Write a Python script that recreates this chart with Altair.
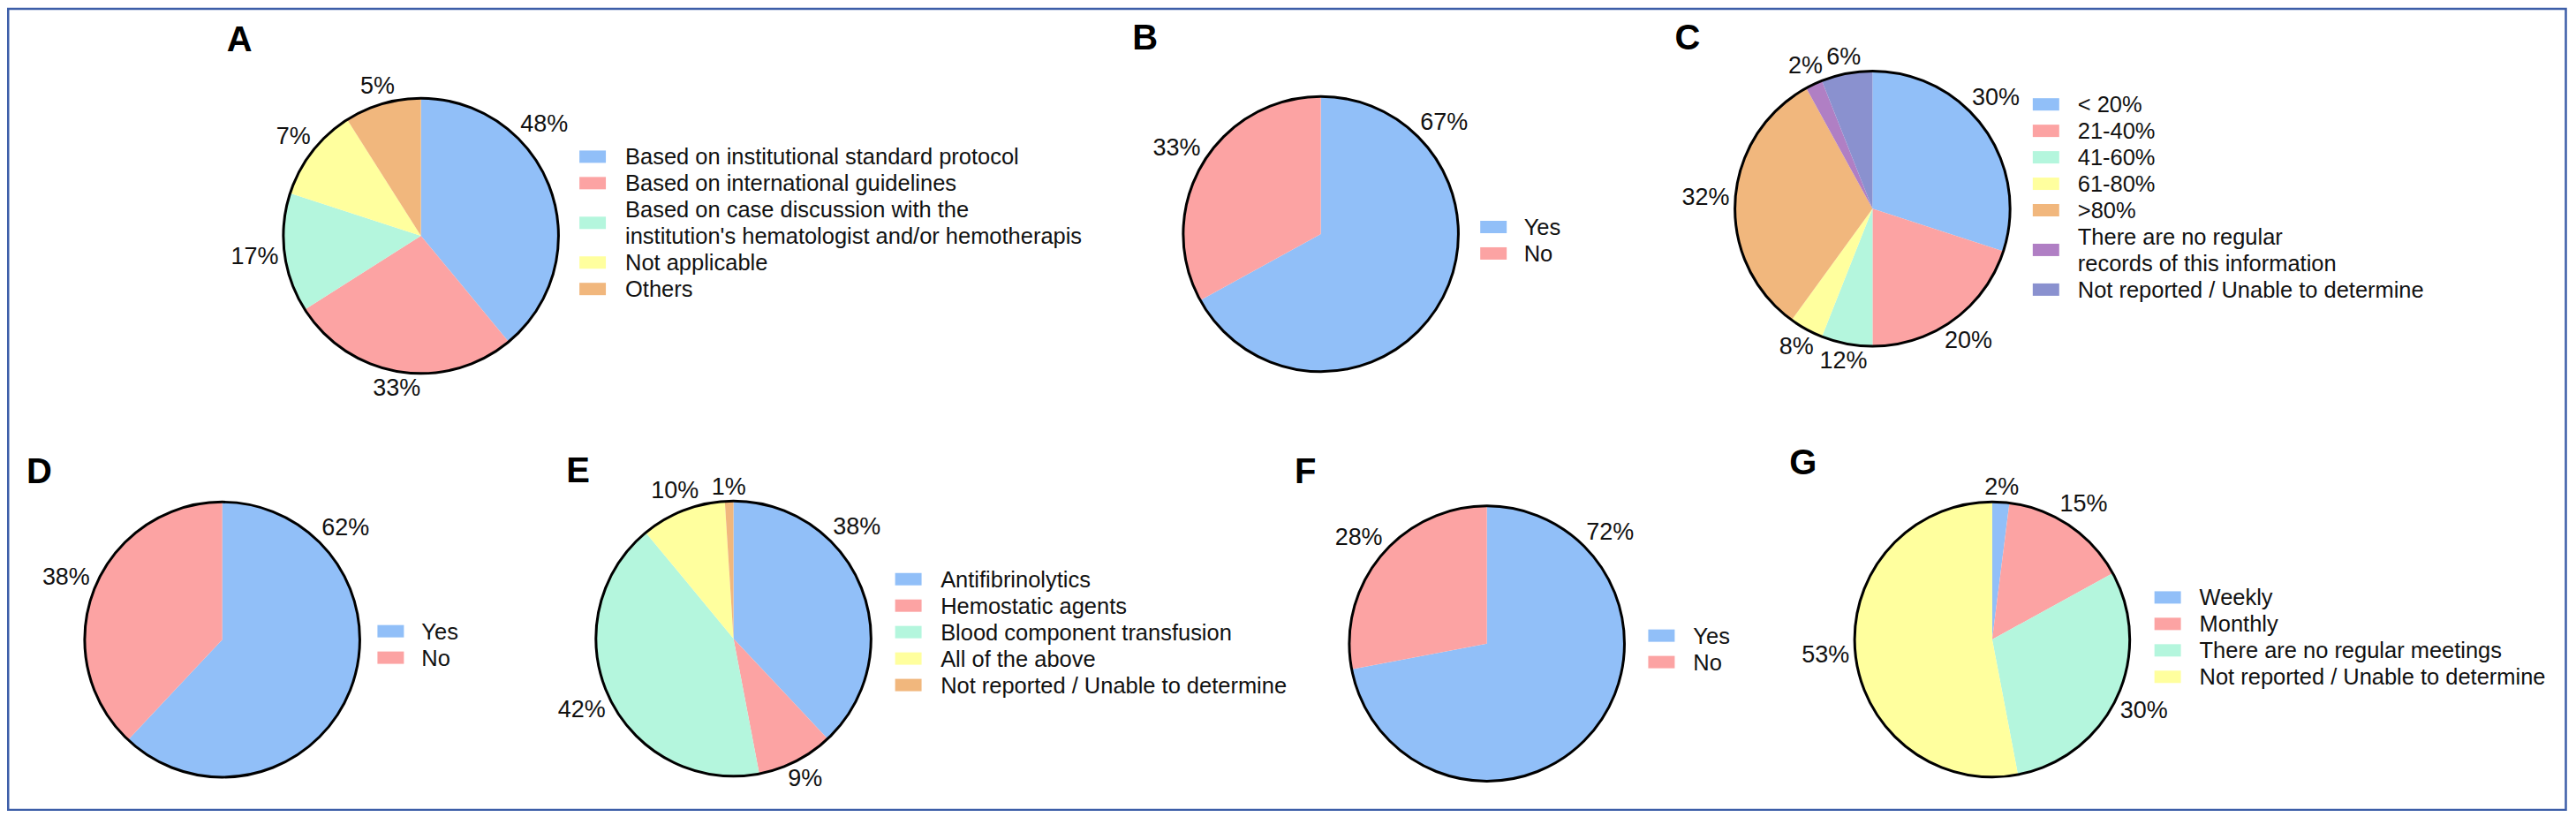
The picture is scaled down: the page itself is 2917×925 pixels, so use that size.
import math
import altair as alt
import pandas as pd

# ---------------- data ----------------
A_categories = [
    "Based on institutional standard protocol",
    "Based on international guidelines",
    "Based on case discussion with the\ninstitution's hematologist and/or hemotherapis",
    "Not applicable",
    "Others",
]
A_values = [39, 27, 14, 11, 9]          # slice shares as drawn
A_labels = ["48%", "33%", "17%", "7%", "5%"]

B_categories = ["Yes", "No"]
B_values = [67, 33]
B_labels = ["67%", "33%"]

C_categories = [
    "< 20%", "21-40%", "41-60%", "61-80%", ">80%",
    "There are no regular\nrecords of this information",
    "Not reported / Unable to determine",
]
C_values = [30, 20, 6, 4, 32, 2, 6]     # slice shares as drawn
C_labels = ["30%", "20%", "12%", "8%", "32%", "2%", "6%"]

D_categories = ["Yes", "No"]
D_values = [62, 38]
D_labels = ["62%", "38%"]

E_categories = [
    "Antifibrinolytics", "Hemostatic agents", "Blood component transfusion",
    "All of the above", "Not reported / Unable to determine",
]
E_values = [38, 9, 42, 10, 1]
E_labels = ["38%", "9%", "42%", "10%", "1%"]

F_categories = ["Yes", "No"]
F_values = [72, 28]
F_labels = ["72%", "28%"]

G_categories = ["Weekly", "Monthly", "There are no regular meetings",
                "Not reported / Unable to determine"]
G_values = [2, 15, 30, 53]
G_labels = ["2%", "15%", "30%", "53%"]

# ---------------- styling / layout ----------------
PALETTE = ["#91bff8", "#fca3a3", "#b4f6dd", "#ffff9e", "#f1b77d", "#b07fc4", "#8a91cf"]
FONT = "Liberation Sans"
FS_PCT = 27
FS_LEG = 25.5
R = 156
OFF = 8  # page margin

# page-pixel layout of each panel
LAYOUT = {
    "A": dict(lx=257, lb=57, cx=477.3, cy=266.7, sx=657, sy=177, tx=709),
    "B": dict(lx=1284, lb=55, cx=1497.7, cy=264.7, sx=1678.5, sy=256.7, tx=1728),
    "C": dict(lx=1899, lb=55, cx=2123.3, cy=236, sx=2305, sy=117.7, tx=2356),
    "D": dict(lx=30, lb=547, cx=252, cy=724.5, sx=428, sy=715, tx=478),
    "E": dict(lx=642, lb=546, cx=831.7, cy=723.3, sx=1015, sy=656, tx=1066.6),
    "F": dict(lx=1468, lb=547, cx=1686, cy=729, sx=1869, sy=720, tx=1920),
    "G": dict(lx=2029, lb=537, cx=2259, cy=724.3, sx=2443, sy=676.7, tx=2494),
}

THETA = alt.Scale(domain=[0, 360], range=[0, 2 * math.pi])


def panel(key, cats, vals, labels):
    L = LAYOUT[key]
    cx, cy = L["cx"] - OFF, L["cy"] - OFF
    total = float(sum(vals))
    cscale = alt.Scale(domain=cats, range=PALETTE[:len(cats)])

    rows, acc = [], 0.0
    for i, (c, v, lab) in enumerate(zip(cats, vals, labels)):
        start = acc / total * 360
        acc += v
        end = acc / total * 360
        mid = (start + end) / 2
        la = min(mid, 48) if i == 0 else mid
        digits = len(lab) - 1
        hw = FS_PCT * (0.556 * digits + 0.889) / 2
        a = math.radians(la)
        lr = R + 6 + hw * abs(math.sin(a)) + 9 * abs(math.cos(a))
        rows.append(dict(cat=c, start=start, end=end, la=la, lr=lr, label=lab))
    df = pd.DataFrame(rows)

    arcs = alt.Chart(df).mark_arc(radius=R, strokeWidth=0).encode(
        x=alt.value(cx), y=alt.value(cy),
        theta=alt.Theta("start:Q", scale=THETA),
        theta2="end:Q",
        color=alt.Color("cat:N", scale=cscale, legend=None),
    )
    outline = alt.Chart(alt.Data(values=[{"o": 0}])).mark_arc(
        radius=R, theta=0, theta2=2 * math.pi, filled=False,
        stroke="black", strokeWidth=3,
    ).encode(x=alt.value(cx), y=alt.value(cy))

    pct = alt.Chart(df).mark_text(
        font=FONT, fontSize=FS_PCT, color="#111111", align="center", baseline="middle"
    ).encode(
        x=alt.value(cx), y=alt.value(cy),
        theta=alt.Theta("la:Q", scale=THETA, stack=False),
        radius=alt.Radius("lr:Q", scale=None),
        text="label:N",
    )

    # legend
    sw_rows, tx_rows, k = [], [], 0
    for c in cats:
        lines = c.split("\n")
        ys = []
        for ln in lines:
            y = L["sy"] - OFF + 30 * k + 1
            tx_rows.append(dict(t=ln, x=L["tx"] - OFF, y=y))
            ys.append(y - 1)
            k += 1
        yc = sum(ys) / len(ys)
        sw_rows.append(dict(cat=c, x0=L["sx"] - OFF, x1=L["sx"] - OFF + 30,
                            y0=yc - 7, y1=yc + 7))
    sw = alt.Chart(pd.DataFrame(sw_rows)).mark_rect(strokeWidth=0).encode(
        x=alt.X("x0:Q", scale=None, axis=None), x2="x1:Q",
        y=alt.Y("y0:Q", scale=None, axis=None), y2="y1:Q",
        color=alt.Color("cat:N", scale=cscale, legend=None),
    )
    lt = alt.Chart(pd.DataFrame(tx_rows)).mark_text(
        font=FONT, fontSize=FS_LEG, color="#111111", align="left", baseline="middle"
    ).encode(
        x=alt.X("x:Q", scale=None, axis=None),
        y=alt.Y("y:Q", scale=None, axis=None),
        text="t:N",
    )
    letter = alt.Chart(alt.Data(values=[{"t": key}])).mark_text(
        font=FONT, fontSize=40, fontWeight="bold", color="black",
        align="left", baseline="alphabetic",
    ).encode(x=alt.value(L["lx"] - OFF), y=alt.value(L["lb"] - OFF), text="t:N")
    return [arcs, outline, pct, sw, lt, letter]


layers = []
layers += panel("A", A_categories, A_values, A_labels)
layers += panel("B", B_categories, B_values, B_labels)
layers += panel("C", C_categories, C_values, C_labels)
layers += panel("D", D_categories, D_values, D_labels)
layers += panel("E", E_categories, E_values, E_labels)
layers += panel("F", F_categories, F_values, F_labels)
layers += panel("G", G_categories, G_values, G_labels)

border = alt.Chart(alt.Data(values=[{"b": 0}])).mark_rect(
    fillOpacity=0, stroke="#3d5ea8", strokeWidth=2.5
).encode(x=alt.value(1.25), x2=alt.value(2901.5), y=alt.value(1.25), y2=alt.value(909.5))
layers.append(border)

chart = alt.layer(*layers).resolve_scale(color="independent").properties(
    width=2905, height=913, padding=0,
    autosize=alt.AutoSizeParams(type="none"),
    background="white",
).configure_view(strokeWidth=0)

chart.save("out.html", embed_options={"renderer": "svg", "actions": False})
